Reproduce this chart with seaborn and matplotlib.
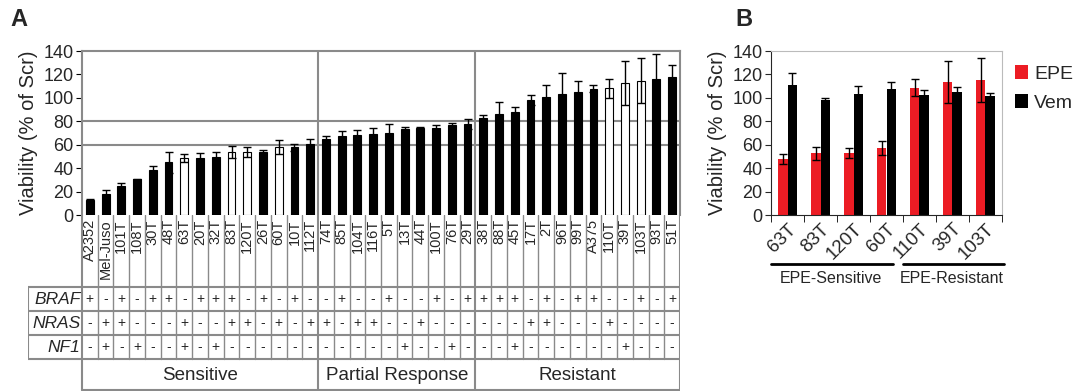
import numpy as np
import pandas as pd
import seaborn as sns
import matplotlib.pyplot as plt

# ---- panel A data ----
cells = ["A2352", "Mel-Juso", "101T", "108T", "30T", "48T", "63T", "20T", "32T", "83T",
         "120T", "26T", "60T", "10T", "112T",
         "74T", "85T", "104T", "116T", "5T", "13T", "44T", "100T", "76T", "29T",
         "38T", "88T", "45T", "17T", "2T", "96T", "99T", "A375", "110T", "39T", "103T", "93T", "51T"]
viab = [12.8, 17.7, 24.8, 30.5, 38.5, 45, 48.4, 48.7, 49.6, 53.6, 53.6, 53.6, 57.8, 58, 61,
        64.6, 67.5, 68.4, 69, 69.8, 73, 74, 74.4, 77, 77.8,
        82.6, 86, 87.7, 98, 100.6, 103, 104.8, 107.7, 108, 112.5, 114.8, 116, 118]
err = [1, 4, 2.5, 0.5, 3.5, 9, 3.5, 4, 4, 5, 4.3, 1.7, 6, 3, 3.5,
       2.5, 4.3, 4.2, 5.6, 7.7, 2, 1.5, 2.8, 1.3, 4,
       2.4, 10.6, 4.3, 4.3, 10.2, 18, 10, 3.1, 8, 18.8, 18.8, 21.3, 10]
open_cells = ["63T", "83T", "120T", "60T", "110T", "39T", "103T"]
groups = ["Sensitive", "Partial Response", "Resistant"]
group_sizes = [15, 10, 13]
mut_names = ["BRAF", "NRAS", "NF1"]
braf = list("+-+-++-+++-+-+-" + "-+--+--+-+" + "+++-+-++--+-+")
nras = list("-++---+--++-+-+" + "+-++--+---" + "---++---+----")
nf1 = list("-+-+--+-+------" + "-----+--+-" + "--+------+---")

# ---- panel B data ----
b_cells = ["63T", "83T", "120T", "60T", "110T", "39T", "103T"]
epe = [47.6, 52.7, 52.7, 57.3, 108.8, 113.4, 115.4]
epe_err = [4.4, 5.7, 4.3, 5.9, 7.2, 17.9, 18.6]
vem = [110.8, 98, 103, 107.4, 102.6, 104.8, 101.7]
vem_err = [10.2, 1.7, 6.7, 6, 4.4, 4.2, 2.3]
b_groups = ["EPE-Sensitive", "EPE-Resistant"]

sns.set_style("ticks")
plt.rcParams['font.family'] = ['Liberation Sans', 'DejaVu Sans']

W, H = 1083, 391
fig = plt.figure(figsize=(W / 100, H / 100), dpi=100)
GRAY = "#8a8a8a"
RED = "#ec1c24"


def px_axes(x0, y0, x1, y1):
    return fig.add_axes([x0 / W, 1 - y1 / H, (x1 - x0) / W, (y1 - y0) / H])


# ================= Panel A =================
axA = px_axes(82, 51, 680, 215)
dfA = pd.DataFrame({"cell": cells, "viab": viab})
pal = {c: ("white" if c in open_cells else "black") for c in cells}
sns.barplot(data=dfA, x="cell", y="viab", hue="cell", palette=pal, legend=False, saturation=1,
            width=0.5, edgecolor="black", linewidth=0.8, ax=axA)
xa = np.arange(len(cells))
axA.errorbar(xa, viab, yerr=err, fmt="none", ecolor="black", elinewidth=1, capsize=3, capthick=1)
axA.axhline(60, color=GRAY, lw=1.5, zorder=0)
axA.axhline(80, color=GRAY, lw=1.5, zorder=0)
bounds = np.cumsum(group_sizes)[:-1] - 0.5
for b in bounds:
    axA.axvline(b, color=GRAY, lw=1.5, zorder=0)
axA.set_xlim(-0.5, len(cells) - 0.5)
axA.set_ylim(0, 140)
axA.set_yticks(range(0, 141, 20))
axA.tick_params(axis="y", labelsize=13, length=4, color="black", pad=2)
axA.tick_params(axis="x", length=0, pad=3, labelsize=10.5, rotation=90)
axA.set_xlabel("")
axA.set_ylabel("Viability (% of Scr)", fontsize=14.5, labelpad=4)
for s in ["top", "right", "left"]:
    axA.spines[s].set_color(GRAY)
    axA.spines[s].set_linewidth(1.5)
axA.spines["bottom"].set_visible(False)

# ---- mutation table under panel A ----
colw = 598 / len(cells)
xl = -0.5 - 54 / colw
axT = px_axes(28, 215, 680, 391)
axT.set_xlim(xl, len(cells) - 0.5)
axT.set_ylim(391, 215)
axT.axis("off")
n = len(cells)
row_y = [287, 311, 335, 359]
for i in range(n + 1):
    xb = i - 0.5
    if i in (0, n) or xb in bounds:
        axT.plot([xb, xb], [215, 390], color=GRAY, lw=1.5)
    else:
        axT.plot([xb, xb], [215, 359], color=GRAY, lw=1)
axT.plot([xl, xl], [287, 359], color=GRAY, lw=1.5)
for y in row_y:
    axT.plot([xl, n - 0.5], [y, y], color=GRAY, lw=1.5)
axT.plot([-0.5, n - 0.5], [389.5, 389.5], color=GRAY, lw=1.5)
for r, (name, vals) in enumerate(zip(mut_names, [braf, nras, nf1])):
    yc = (row_y[r] + row_y[r + 1]) / 2
    axT.text(-0.6, yc, name, ha="right", va="center", fontsize=12.5, style="italic")
    for i, v in enumerate(vals):
        axT.text(i, yc, v, ha="center", va="center", fontsize=10)
start = -0.5
for g, size in zip(groups, group_sizes):
    axT.text(start + size / 2, 376, g, ha="center", va="center", fontsize=13.5)
    start += size

# ================= Panel B =================
axB = px_axes(771, 51, 1002, 215)
dfB = pd.DataFrame({"cell": b_cells * 2, "treat": ["EPE"] * len(b_cells) + ["Vem"] * len(b_cells),
                    "viab": epe + vem})
sns.barplot(data=dfB, x="cell", y="viab", hue="treat", palette={"EPE": RED, "Vem": "black"},
            saturation=1, width=0.6, edgecolor="none", ax=axB)
xb_ = np.arange(len(b_cells))
axB.errorbar(xb_ - 0.15, epe, yerr=epe_err, fmt="none", ecolor="black", elinewidth=1, capsize=3, capthick=1)
axB.errorbar(xb_ + 0.15, vem, yerr=vem_err, fmt="none", ecolor="black", elinewidth=1, capsize=3, capthick=1)
axB.set_xlim(-0.5, len(b_cells) - 0.5)
axB.set_ylim(0, 140)
axB.set_yticks(range(0, 141, 20))
axB.set_xlabel("")
axB.set_ylabel("Viability (% of Scr)", fontsize=14.5, labelpad=4)
axB.tick_params(axis="y", labelsize=13, length=4, pad=2)
axB.set_xticks(xb_)
axB.set_xticklabels(b_cells, rotation=45, ha="right", rotation_mode="anchor", fontsize=13.5)
axB.tick_params(axis="x", length=0, pad=4)
axB.set_xticks(np.arange(len(b_cells) + 1) - 0.5, minor=True)
axB.tick_params(axis="x", which="minor", length=5, color="black")
for s in ["top", "right"]:
    axB.spines[s].set_color("#bbbbbb")
sns.move_legend(axB, "upper left", bbox_to_anchor=(0.98, 1.02), frameon=False, title=None,
                fontsize=14, handlelength=0.7, handleheight=0.7, handletextpad=0.3, labelspacing=0.6)

trans = axB.get_xaxis_transform()
axB.plot([-0.5, 3.2], [-0.30, -0.30], color="black", lw=2, transform=trans, clip_on=False)
axB.plot([3.5, 6.55], [-0.30, -0.30], color="black", lw=2, transform=trans, clip_on=False)
axB.text(1.33, -0.385, b_groups[0], ha="center", va="center", fontsize=11.5, transform=trans)
axB.text(4.98, -0.385, b_groups[1], ha="center", va="center", fontsize=11.5, transform=trans)

fig.text(10 / W, 1 - 20 / H, "A", fontsize=17, fontweight="bold", va="center")
fig.text(735 / W, 1 - 20 / H, "B", fontsize=17, fontweight="bold", va="center")

fig.savefig("out.png", dpi=100)
